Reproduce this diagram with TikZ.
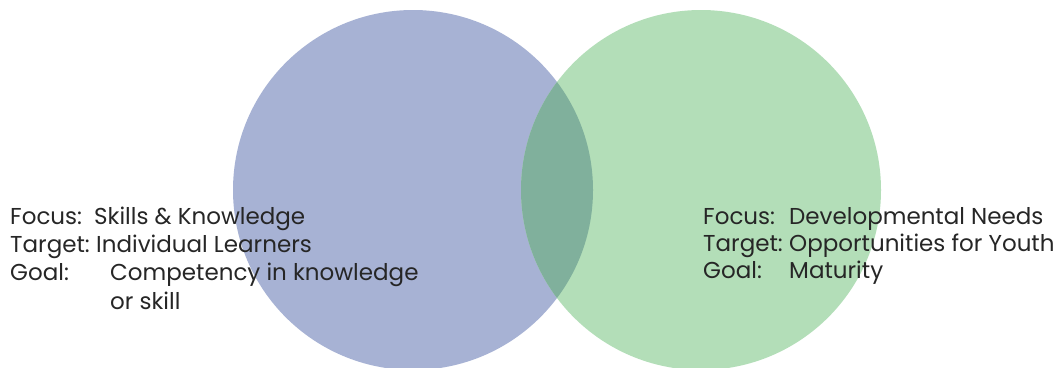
\documentclass[tikz,border=0pt]{standalone}
\usepackage{fontspec}
\setmainfont{Poppins}
\usetikzlibrary{calc}

\definecolor{cBlue}{HTML}{A7B2D4}
\definecolor{cGreen}{HTML}{B3DEB8}
\definecolor{cMix}{HTML}{80B09C}
\definecolor{cText}{HTML}{262626}

\tikzset{
  txt/.style={anchor=base west, inner sep=0pt, text=cText,
              font=\fontsize{23pt}{27pt}\selectfont},
}

\begin{document}
\begin{tikzpicture}[x=1pt, y=-1pt]
  \newdimen\rA
  \rA = 180pt

\useasboundingbox (0,0) rectangle (1059,367);

\coordinate (cL) at (413,190);
\coordinate (cR) at (701,190);

\fill [cBlue]  (cL) circle (\rA);
\fill [cGreen] (cR) circle (\rA);
\begin{scope}
  \clip (cL) circle (\rA);
  \fill [cMix] (cR) circle (\rA);
\end{scope}

% left block
\node [txt] (lFocus)  at (10,224)  {Focus:};
\node [txt] (lTarget) at (10,252)  {Target:};
\node [txt] (lGoal)   at (10,280)  {Goal:};
\node [txt] (vFocusL)  at (94,224)  {Skills \& Knowledge};
\node [txt] (vTargetL) at (96,252)  {Individual Learners};
\node [txt] (vGoalL)   at (110,280) {Competency in knowledge};
\node [txt] (vGoalL2)  at (110,309) {or skill};

% right block
\node [txt] (rFocus)  at (703,224) {Focus:};
\node [txt] (rTarget) at (703,251) {Target:};
\node [txt] (rGoal)   at (703,278) {Goal:};
\node [txt] (vFocusR)  at (789,224) {Developmental Needs};
\node [txt] (vTargetR) at (789,251) {Opportunities for Youth};
\node [txt] (vGoalR)   at (789,278) {Maturity};

\end{tikzpicture}
\end{document}
